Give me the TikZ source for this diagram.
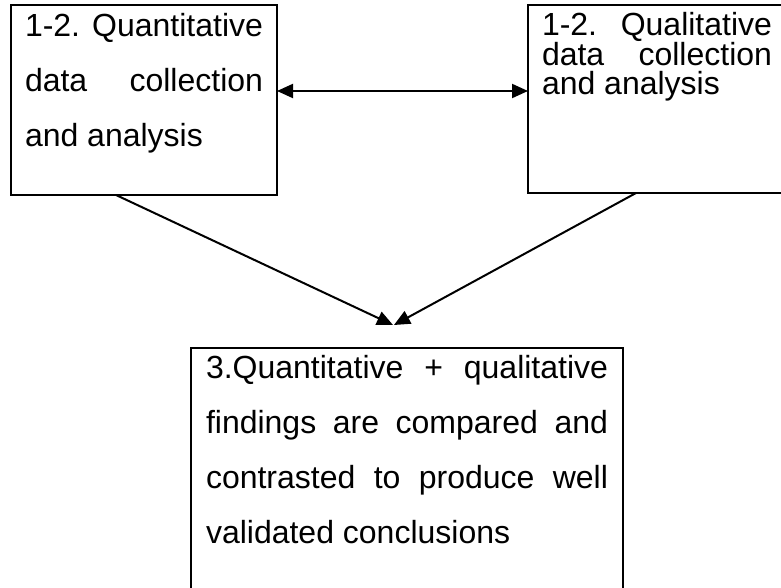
\documentclass[tikz,border=0pt]{standalone}
\usepackage{fontspec}
\setmainfont{Liberation Sans}
\usetikzlibrary{arrows.meta}

% justified text block of fixed height: height, width, first baseline, line distance, text
\newcommand{\boxtext}[5]{\parbox[c][#1][t]{#2}{\fontsize{32pt}{#4}\selectfont\frenchspacing
  \tolerance=10000\hbadness=10000\hyphenpenalty=10000\exhyphenpenalty=10000
  \rule{0pt}{#3}#5}}

\begin{document}
\begin{tikzpicture}[x=1pt, y=-1pt]
	\tikzset{
		txtbox/.style={draw, line width=2pt, anchor=north west, inner ysep=0pt, outer sep=0pt},
		link/.style={line width=2pt},
		>={Triangle[length=16pt, width=14pt]}
	}
	\clip (0,0) rectangle (781,588);
	% boxes
	\node[txtbox, inner xsep=14pt] (quan) at (11,5)
		{\boxtext{190pt}{238pt}{32pt}{55pt}{1-2. Quantitative data collection and analysis}};
	\node[txtbox, inner xsep=14pt] (qual) at (528,5)
		{\boxtext{188pt}{230pt}{31pt}{29.5pt}{1-2. Qualitative data collection and analysis}};
	\node[txtbox, inner xsep=15pt] (concl) at (191,348)
		{\boxtext{260pt}{402pt}{30pt}{55pt}{3.Quantitative + qualitative findings are compared and contrasted to produce well validated conclusions}};
	% where the two arrows meet
	\coordinate (meetl) at (393,325);
	\coordinate (meetr) at (394,325);
	% arrows
	\draw[link, <->] ([yshift=-86pt]quan.north east) -- ([yshift=-86pt]qual.north west);
	\draw[link, ->] ([xshift=105pt]quan.south west) -- (meetl);
	\draw[link, ->] ([xshift=108pt]qual.south west) -- (meetr);
\end{tikzpicture}
\end{document}
